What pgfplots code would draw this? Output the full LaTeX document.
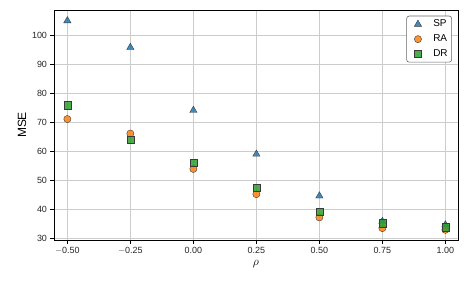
\documentclass[border=0pt]{standalone}
\usepackage{fontspec}
\setmainfont{Liberation Sans}
\setsansfont{Liberation Sans}
\usepackage{pgfplots}
\pgfplotsset{compat=1.18}
\definecolor{tabblue}{HTML}{1F77B4}
\definecolor{taborange}{HTML}{FF7F0E}
\definecolor{tabgreen}{HTML}{2CA02C}
\definecolor{edgec}{HTML}{3A3A3A}
\definecolor{gridc}{HTML}{CCCCCC}
\begin{document}
\begin{tikzpicture}[x=1bp,y=1bp]
\begin{axis}[
  at={(0,0)}, anchor=south west,
  scale only axis, width=404bp, height=230bp,
  xmin=-0.553, xmax=1.05, ymin=29.6, ymax=108.9,
  xtick={-0.5,-0.25,0,0.25,0.5,0.75,1},
  xticklabels={$-$0.50,$-$0.25,0.00,0.25,0.50,0.75,1.00},
  ytick={30,40,50,60,70,80,90,100},
  /pgf/number format/assume math mode=true,
  tick label style={font=\fontsize{9}{11}\selectfont, text=black!85},
  xlabel={$\rho$}, ylabel={MSE},
  label style={font=\fontsize{12}{14}\selectfont},
  ylabel style={yshift=-1bp},
  xlabel style={yshift=1bp},
  grid=major, major grid style={gridc, line width=0.7bp},
  axis line style={black, line width=0.9bp},
  tick style={black, line width=0.9bp},
  tick align=outside, major tick length=3.5bp,
  xtick pos=bottom, ytick pos=left,
  legend style={font=\fontsize{10}{12}\selectfont, draw=black!60, rounded corners=2.5bp, line width=0.6bp, inner xsep=2bp, inner ysep=2bp, row sep=2.5bp, at={(0.985,0.975)}, anchor=north east},
  legend cell align=left,
  legend image code/.code={\draw[#1] plot coordinates {(0bp,0bp)}; \path (-9bp,0bp) (13bp,0bp);},
]
\addplot[only marks, mark=triangle*, mark size=4.2bp, mark options={fill=tabblue, draw=edgec, line width=0.4bp, fill opacity=0.85}] coordinates {
(-0.5,105.2) (-0.25,96.0) (0,74.3) (0.25,59.2) (0.5,44.8) (0.75,36.0) (1.0,34.8)};
\addlegendentry{SP}
\addplot[only marks, mark=*, mark size=3.6bp, mark options={fill=taborange, draw=edgec, line width=0.4bp, fill opacity=0.85}] coordinates {
(-0.5,71.3) (-0.25,66.3) (0,54.1) (0.25,45.4) (0.5,37.4) (0.75,33.7) (1.0,33.1)};
\addlegendentry{RA}
\addplot[only marks, mark=square*, mark size=3.6bp, mark options={fill=tabgreen, draw=edgec, line width=0.4bp, fill opacity=0.85}] coordinates {
(-0.5,76.1) (-0.25,64.1) (0,56.3) (0.25,47.5) (0.5,39.3) (0.75,35.4) (1.0,34.0)};
\addlegendentry{DR}
\end{axis}
\pgfresetboundingbox
\path[use as bounding box] (-54bp,-48bp) rectangle (414bp,240bp);
\end{tikzpicture}
\end{document}
